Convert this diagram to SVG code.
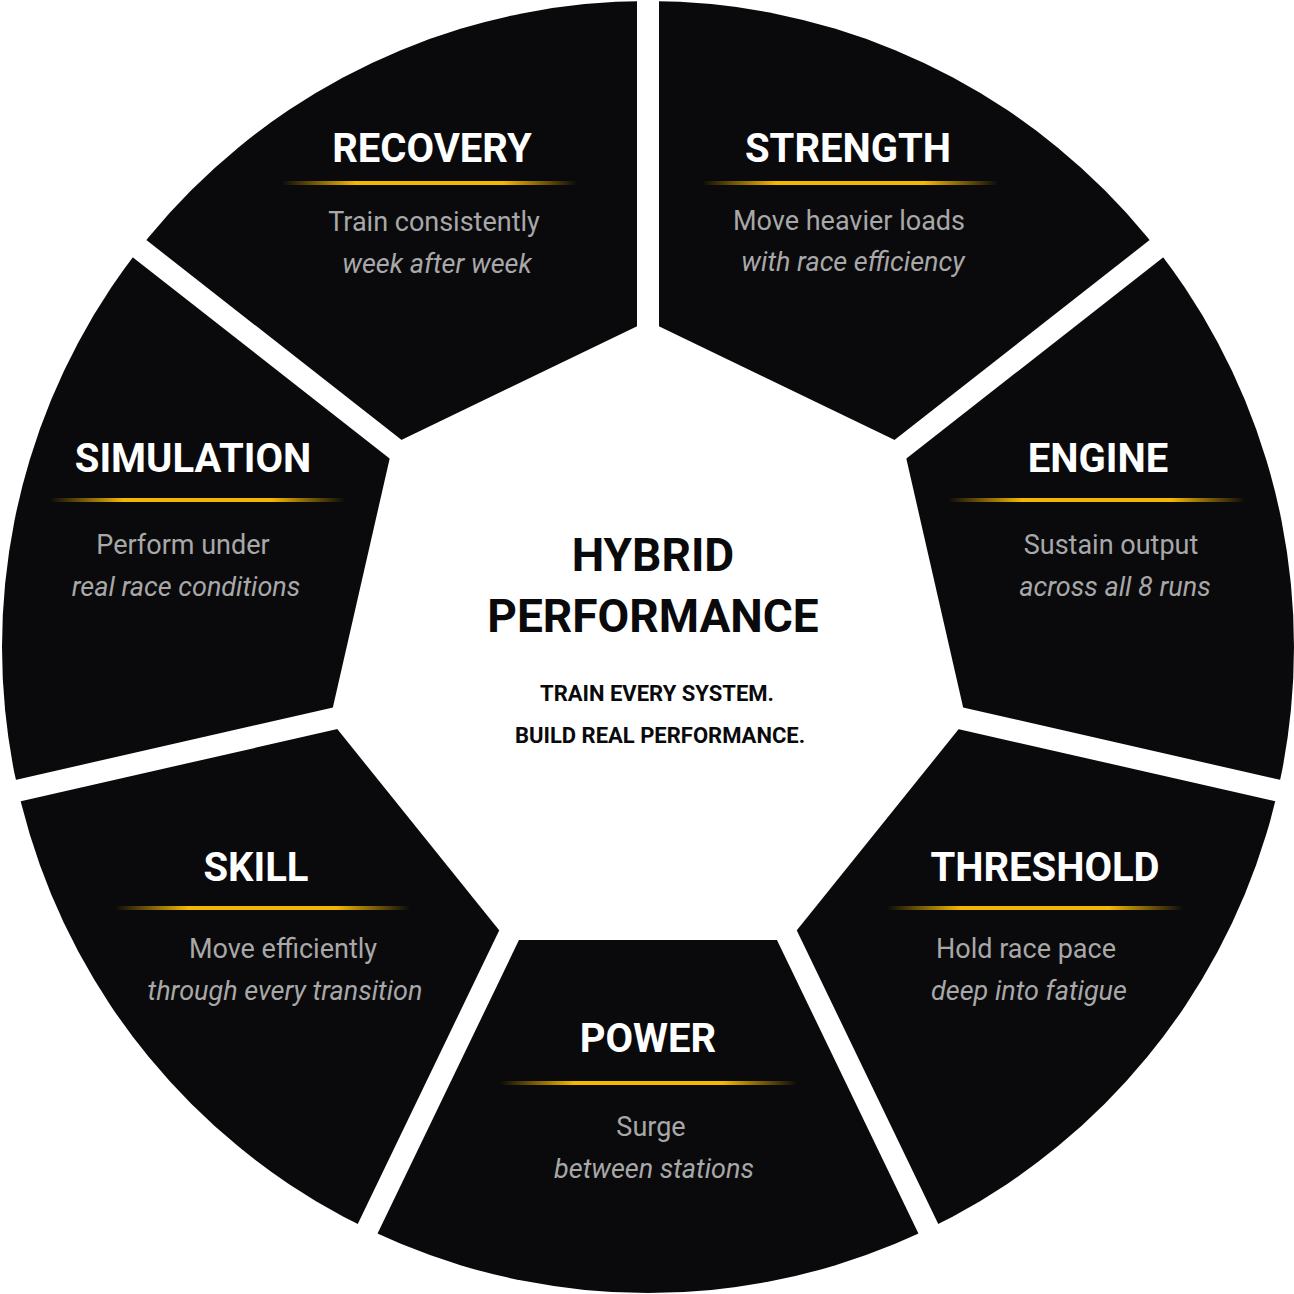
<svg xmlns="http://www.w3.org/2000/svg" width="1294" height="1294" viewBox="0 0 1294 1294">
<defs>
<linearGradient id="gold" x1="0" x2="1" y1="0" y2="0">
<stop offset="0" stop-color="#f5b800" stop-opacity="0"/>
<stop offset="0.25" stop-color="#f5b800"/>
<stop offset="0.75" stop-color="#f5b800"/>
<stop offset="1" stop-color="#f5b800" stop-opacity="0"/>
</linearGradient>
<style>
.t{font-family:Roboto,"Liberation Sans",sans-serif;font-weight:700;font-size:40px;fill:#fff;text-anchor:middle}
.d{font-family:Roboto,"Liberation Sans",sans-serif;font-size:27px;fill:#a8a8a8;text-anchor:middle}
.i{font-style:italic}
.c{font-family:Roboto,"Liberation Sans",sans-serif;font-weight:700;fill:#0a0a0c;text-anchor:middle}
.g{fill:url(#gold)}
</style>
</defs>
<rect width="1294" height="1294" fill="#fff"/>
<circle cx="648" cy="647" r="646" fill="#0a0a0c"/>
<g id="connectors" stroke="#fff" stroke-width="22">
<line x1="648" y1="647" x2="648" y2="-20"/>
<line x1="648" y1="647" x2="1179" y2="231"/>
<line x1="648" y1="647" x2="1306" y2="797"/>
<line x1="648" y1="647" x2="941" y2="1255"/>
<line x1="648" y1="647" x2="355" y2="1255"/>
<line x1="648" y1="647" x2="-10" y2="797"/>
<line x1="648" y1="647" x2="117" y2="231"/>
</g>
<polygon id="hub" fill="#fff" points="648,321 903,444 966,720 789,940 507,940 330,720 393,444"/>
<g id="center">
<text class="c" x="653" y="571" font-size="46">HYBRID</text>
<text class="c" x="653" y="632" font-size="46">PERFORMANCE</text>
<text class="c" x="657" y="701" font-size="22">TRAIN EVERY SYSTEM.</text>
<text class="c" x="660" y="743" font-size="22">BUILD REAL PERFORMANCE.</text>
</g>
<g id="recovery"><text class="t" x="432" y="162">RECOVERY</text><rect class="g" x="282" y="181" width="295" height="4"/><text class="d" x="434" y="231">Train consistently</text><text class="d i" x="437" y="273">week after week</text></g>
<g id="strength"><text class="t" x="848" y="162">STRENGTH</text><rect class="g" x="702" y="181" width="296" height="4"/><text class="d" x="849" y="230">Move heavier loads</text><text class="d i" x="853" y="271">with race efficiency</text></g>
<g id="engine"><text class="t" x="1098" y="472">ENGINE</text><rect class="g" x="948" y="498" width="297" height="4"/><text class="d" x="1111" y="554">Sustain output</text><text class="d i" x="1115" y="596">across all 8 runs</text></g>
<g id="threshold"><text class="t" x="1045" y="881">THRESHOLD</text><rect class="g" x="887" y="906" width="296" height="4"/><text class="d" x="1026" y="958">Hold race pace</text><text class="d i" x="1029" y="1000">deep into fatigue</text></g>
<g id="power"><text class="t" x="648" y="1052">POWER</text><rect class="g" x="500" y="1081" width="297" height="4"/><text class="d" x="651" y="1136">Surge</text><text class="d i" x="654" y="1178">between stations</text></g>
<g id="skill"><text class="t" x="256" y="881">SKILL</text><rect class="g" x="115" y="906" width="295" height="4"/><text class="d" x="283" y="958">Move efficiently</text><text class="d i" x="285" y="1000">through every transition</text></g>
<g id="simulation"><text class="t" x="193" y="472">SIMULATION</text><rect class="g" x="50" y="498" width="295" height="4"/><text class="d" x="183" y="554">Perform under</text><text class="d i" x="186" y="596">real race conditions</text></g>
</svg>
